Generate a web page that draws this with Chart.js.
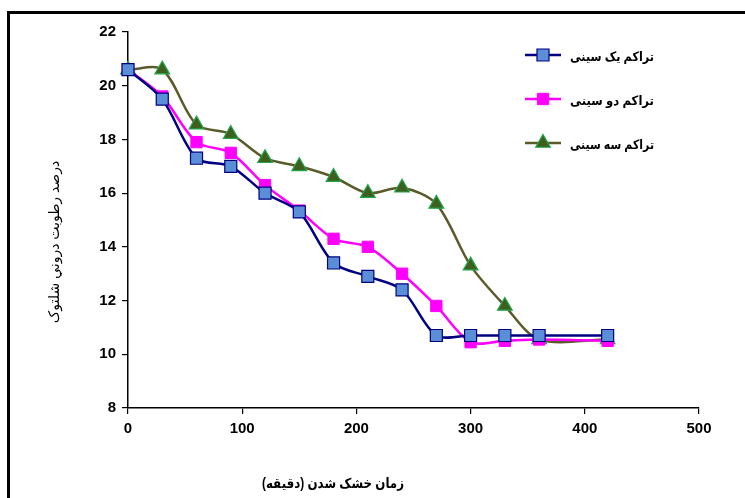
<!DOCTYPE html>
<html>
<head>
<meta charset="utf-8">
<script src="https://cdn.jsdelivr.net/npm/chart.js@4"></script>
<style>
  html, body { margin: 0; padding: 0; background: #fff; }
  #wrap { position: relative; width: 745px; height: 498px; overflow: hidden; }
  #frame { position: absolute; left: 7px; top: 11px; width: 800px; height: 600px;
           border-left: 3px solid #000; border-top: 3px solid #000; pointer-events: none; }
  canvas { position: absolute; left: 0; top: 0; }
</style>
</head>
<body>
<div id="wrap">
  <canvas id="miGrafico" width="745" height="498"></canvas>
  <div id="frame"></div>
</div>
<script>
// زمان (دقیقه)
const tiempos = [0, 30, 60, 90, 120, 150, 180, 210, 240, 270, 300, 330, 360, 420];
// درصد رطوبت
const unaBandeja = [20.6, 19.5, 17.3, 17.0, 16.0, 15.3, 13.4, 12.9, 12.4, 10.7, 10.7, 10.7, 10.7, 10.7];
const dosBandejas = [20.6, 19.6, 17.9, 17.5, 16.3, 15.35, 14.3, 14.0, 13.0, 11.8, 10.45, 10.5, 10.55, 10.5];
const tresBandejas = [20.6, 20.6, 18.55, 18.2, 17.3, 17.0, 16.6, 16.0, 16.2, 15.6, 13.3, 11.8, 10.55, 10.55];
const nombres = ['تراکم یک سینی', 'تراکم دو سینی', 'تراکم سه سینی'];
const tituloX = 'زمان خشک شدن (دقیقه)';
const tituloY = 'درصد رطوبت دروني شلتوک';

const fuente = '"Liberation Sans", Arial, "DejaVu Sans", sans-serif';

function puntos(valores){
    return tiempos.map((t, i) => ({x: t, y: valores[i]}));
}

// leyenda y títulos de los ejes dibujados a mano
const extras = {
    id: 'extras',
    afterDraw(chart){
        const ctx = chart.ctx;
        ctx.save();
        const filas = [55, 99, 143];
        chart.data.datasets.forEach((ds, i) => {
            const y = filas[i];
            ctx.strokeStyle = ds.borderColor;
            ctx.lineWidth = 2.5;
            ctx.beginPath();
            ctx.moveTo(525, y);
            ctx.lineTo(561, y);
            ctx.stroke();
            ctx.fillStyle = ds.pointBackgroundColor;
            ctx.strokeStyle = ds.pointBorderColor;
            ctx.lineWidth = ds.pointBorderWidth;
            Chart.helpers.drawPoint(ctx, {pointStyle: ds.pointStyle, radius: ds.pointRadius, borderWidth: ds.pointBorderWidth}, 543, y);
            ctx.fillStyle = '#000';
            ctx.font = 'bold 13px ' + fuente;
            ctx.direction = 'rtl';
            ctx.textAlign = 'right';
            ctx.textBaseline = 'middle';
            ctx.fillText(ds.label, 654, y + 2, 84);
        });
        ctx.font = 'bold 14px ' + fuente;
        ctx.direction = 'rtl';
        ctx.textAlign = 'center';
        ctx.textBaseline = 'middle';
        ctx.fillStyle = '#000';
        ctx.fillText(tituloX, 333, 484, 142);
        ctx.translate(55, 242);
        ctx.rotate(-Math.PI / 2);
        ctx.font = '14px ' + fuente;
        ctx.fillText(tituloY, 0, 0, 196);
        ctx.restore();
    }
};

const ctx = document.getElementById('miGrafico').getContext('2d');
const miGrafico = new Chart(ctx, {
    type: 'line',
    data: {
        datasets: [{
            label: nombres[0],
            data: puntos(unaBandeja),
            borderColor: '#000080',
            backgroundColor: '#5a8fd8',
            pointBackgroundColor: '#5a8fd8',
            pointBorderColor: '#000080',
            pointBorderWidth: 1.2,
            pointStyle: 'rect',
            pointRadius: 8.5,
            borderWidth: 2.5,
            tension: 0.3
        }, {
            label: nombres[1],
            data: puntos(dosBandejas),
            borderColor: '#ff00ff',
            backgroundColor: '#ff00ff',
            pointBackgroundColor: '#ff00ff',
            pointBorderColor: '#ff00ff',
            pointBorderWidth: 1,
            pointStyle: 'rect',
            pointRadius: 8,
            borderWidth: 2.5,
            tension: 0.3
        }, {
            label: nombres[2],
            data: puntos(tresBandejas),
            borderColor: '#5b5b2a',
            backgroundColor: '#3f5f1f',
            pointBackgroundColor: '#3f5f1f',
            pointBorderColor: '#1fa64a',
            pointBorderWidth: 1.2,
            pointStyle: 'triangle',
            pointRadius: 8.5,
            borderWidth: 2.5,
            tension: 0.3
        }]
    },
    options: {
        responsive: false,
        animation: false,
        clip: false,
        layout: { padding: { top: 32, right: 46, left: 0, bottom: 0 } },
        plugins: { legend: { display: false }, tooltip: { enabled: false } },
        scales: {
            x: {
                type: 'linear',
                min: 0, max: 500,
                afterFit: s => { s.height = 90; },
                ticks: { stepSize: 100, color: '#000', padding: 6, font: { family: fuente, size: 15, weight: 'bold' } },
                grid: { drawOnChartArea: false, drawTicks: true, tickLength: 6, color: '#000', lineWidth: 1.2 },
                border: { color: '#000', width: 1.5 }
            },
            y: {
                min: 8, max: 22,
                afterFit: s => { s.width = 128; },
                ticks: { stepSize: 2, color: '#000', padding: 6, font: { family: fuente, size: 15, weight: 'bold' } },
                grid: { drawOnChartArea: false, drawTicks: true, tickLength: 6, color: '#000', lineWidth: 1.2 },
                border: { color: '#000', width: 1.5 }
            }
        }
    },
    plugins: [extras]
});
</script>
</body>
</html>
